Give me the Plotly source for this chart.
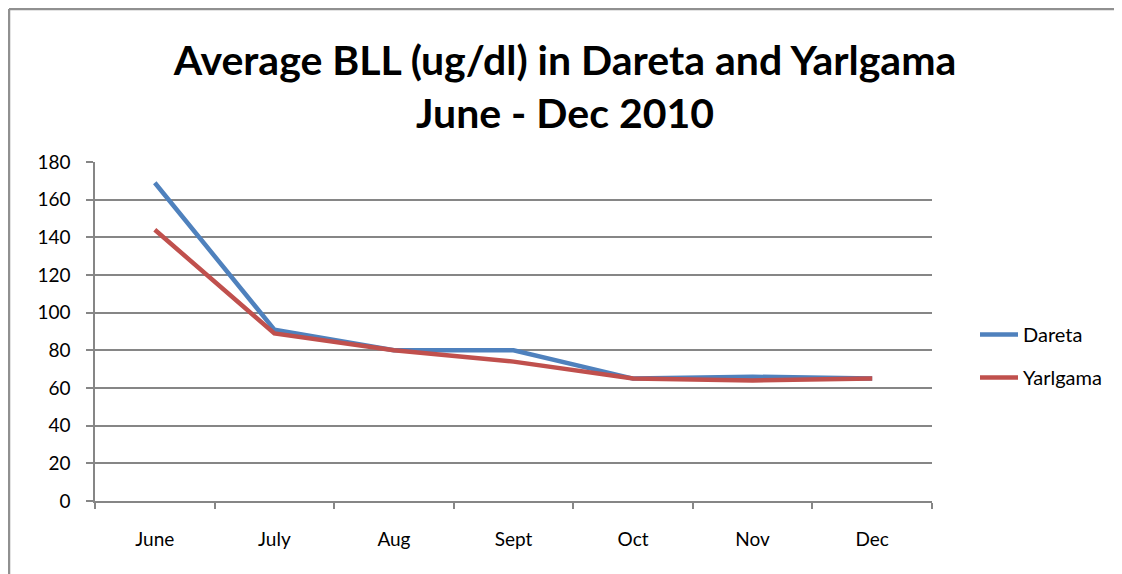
import plotly.graph_objects as go

months = ["June", "July", "Aug", "Sept", "Oct", "Nov", "Dec"]
dareta = [169, 91, 80, 80, 65, 66, 65]
yarlgama = [144, 89, 80, 74, 65, 64, 65]
y_ticks = [0, 20, 40, 60, 80, 100, 120, 140, 160, 180]

OFF = 8  # page body margin
W, H = 1122 - OFF, 574 - OFF
L, R, T, B = 95 - OFF, 932 - OFF, 162 - OFF, 501 - OFF

fig = go.Figure()
fig.add_trace(go.Scatter(x=months, y=dareta, name="Dareta", mode="lines",
                         line=dict(color="#4F81BD", width=4.5), legendgroup="a"))
fig.add_trace(go.Scatter(x=months, y=yarlgama, name="Yarlgama", mode="lines",
                         line=dict(color="#C0504D", width=4.5), legendgroup="b"))

def px(xp):
    return (xp - OFF - L) / (R - L)

def py(yp):
    return (B - (yp - OFF)) / (B - T)

fig.update_layout(
    width=W, height=H,
    margin=dict(l=L, r=W - R, t=T, b=H - B),
    paper_bgcolor="white", plot_bgcolor="white",
    font=dict(family="Lato", color="black", size=20),
    title=dict(text="Average BLL (ug/dl) in Dareta and Yarlgama<br>June - Dec 2010",
               x=(565 - OFF) / W, xref="container", xanchor="center",
               y=1 - (75 - OFF) / H, yref="container", yanchor="top",
               font=dict(family="Lato", size=41, color="black", weight="bold")),
    xaxis=dict(type="category", tickson="boundaries", ticks="outside", ticklen=6,
               tickcolor="#868686", tickwidth=1.5, showgrid=False,
               showline=True, linecolor="#868686", linewidth=1.5,
               tickfont=dict(size=19), range=[-0.5, 6.5], ticklabelstandoff=20),
    yaxis=dict(range=[0, 180], tickvals=y_ticks, ticks="outside", ticklen=7,
               tickcolor="#868686", tickwidth=1.5,
               showgrid=True, gridcolor="#868686", gridwidth=1.5,
               showline=True, linecolor="#868686", linewidth=1.5,
               zeroline=False, tickfont=dict(size=19), ticklabelstandoff=12),
    legend=dict(x=px(975), xanchor="left", y=py(315), yanchor="top",
                font=dict(size=20), tracegroupgap=14, itemwidth=38,
                bgcolor="rgba(0,0,0,0)"),
    showlegend=True,
)

# chart frame (top and left edges)
fig.add_shape(type="line", xref="paper", yref="paper",
              x0=px(9), x1=px(1122), y0=py(9), y1=py(9),
              line=dict(color="#909090", width=2.5))
fig.add_shape(type="line", xref="paper", yref="paper",
              x0=px(9), x1=px(9), y0=py(9), y1=py(574),
              line=dict(color="#909090", width=2.5))

fig.write_html("out.html")
